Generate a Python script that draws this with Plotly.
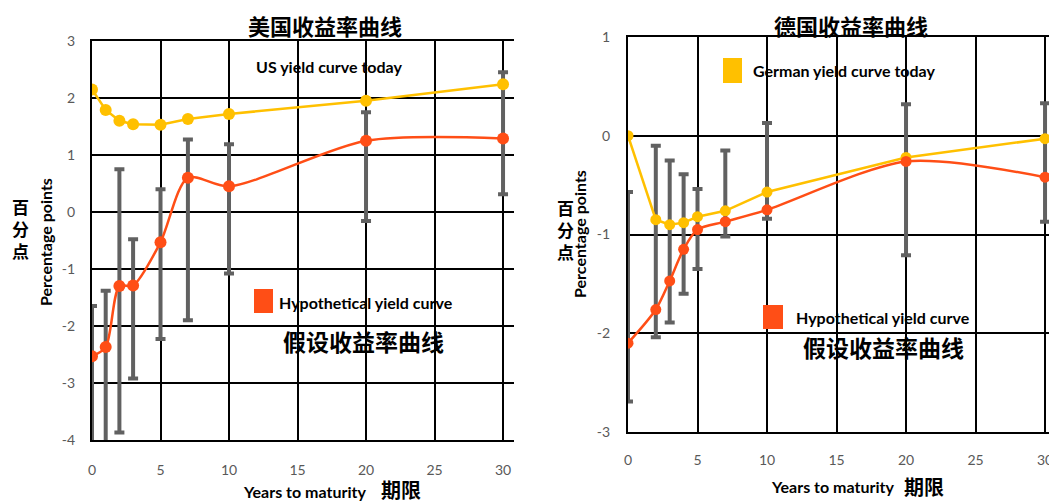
import plotly.graph_objects as go

# ---------------- data ----------------
us_years = [0, 1, 2, 3, 5, 7, 10, 20, 30]
us_today = [2.15, 1.79, 1.60, 1.54, 1.53, 1.63, 1.72, 1.95, 2.24]
us_hypo = [-2.53, -2.37, -1.30, -1.29, -0.53, 0.60, 0.45, 1.25, 1.29]
us_err_hi = [-1.65, -1.38, 0.75, -0.48, 0.40, 1.27, 1.19, 1.75, 2.45]
us_err_lo = [-4.6, -4.3, -3.87, -2.92, -2.23, -1.90, -1.08, -0.16, 0.31]

de_years = [0, 2, 3, 4, 5, 7, 10, 20, 30]
de_today = [0.0, -0.85, -0.90, -0.88, -0.82, -0.76, -0.57, -0.22, -0.03]
de_hypo = [-2.10, -1.76, -1.47, -1.15, -0.95, -0.87, -0.75, -0.26, -0.42]
de_err_hi = [-0.57, -0.10, -0.25, -0.39, -0.54, -0.15, 0.13, 0.32, 0.33]
de_err_lo = [-2.69, -2.04, -1.89, -1.60, -1.35, -1.02, -0.84, -1.21, -0.87]

x_ticks = [0, 5, 10, 15, 20, 25, 30]
us_y_ticks = [3, 2, 1, 0, -1, -2, -3, -4]
de_y_ticks = [1, 0, -1, -2, -3]

YELLOW = "#FFC000"
RED = "#FF4E16"
GRAY = "#616161"
OFF = 8  # page body margin
W, H = 1057 - OFF, 504 - OFF


def px(x):
    return (x - OFF) / W


def py(y):
    return 1 - (y - OFF) / H


fig = go.Figure()


def add_chart(xs, today, hypo, hi, lo, xa, ya, msize):
    fig.add_trace(go.Scatter(
        x=xs, y=hypo, mode="markers", xaxis=xa, yaxis=ya,
        marker=dict(size=1, opacity=0), showlegend=False, hoverinfo="skip",
        error_y=dict(type="data", symmetric=False,
                     array=[h - v for h, v in zip(hi, hypo)],
                     arrayminus=[v - l for l, v in zip(lo, hypo)],
                     color=GRAY, thickness=4, width=5),
    ))
    fig.add_trace(go.Scatter(
        x=xs, y=today, mode="lines+markers", xaxis=xa, yaxis=ya,
        line=dict(color=YELLOW, width=2.5),
        marker=dict(color=YELLOW, size=msize), showlegend=False,
    ))
    fig.add_trace(go.Scatter(
        x=xs, y=hypo, mode="lines+markers", xaxis=xa, yaxis=ya,
        line=dict(color=RED, width=2.5, shape="spline", smoothing=0.8),
        marker=dict(color=RED, size=msize), showlegend=False,
    ))


add_chart(us_years, us_today, us_hypo, us_err_hi, us_err_lo, "x", "y", 12)
add_chart(de_years, de_today, de_hypo, de_err_hi, de_err_lo, "x2", "y2", 11)

tickfont = dict(family="Lato", size=14, color="#595959")
axis_common = dict(showgrid=True, gridcolor="black", gridwidth=2,
                   zeroline=False, showline=True, linecolor="black",
                   linewidth=2, ticks="", tickfont=tickfont, fixedrange=True,
                   automargin=False)

fig.update_layout(
    width=W, height=H,
    margin=dict(l=0, r=0, t=0, b=0, autoexpand=False),
    paper_bgcolor="white", plot_bgcolor="white",
    xaxis=dict(domain=[px(92), px(514)], range=[0, 30.8], anchor="y",
               tickvals=x_ticks, ticktext=[str(v) for v in x_ticks],
               mirror=True, ticklabelstandoff=16, **axis_common),
    yaxis=dict(domain=[py(440), py(41)], range=[-4, 3], anchor="x",
               tickvals=us_y_ticks, ticktext=[str(v) for v in us_y_ticks],
               ticklabelstandoff=12, **axis_common),
    xaxis2=dict(domain=[px(628), 1.0], range=[0, 30.86], anchor="y2",
                tickvals=x_ticks, ticktext=[str(v) for v in x_ticks],
                mirror=True, ticklabelstandoff=14, **axis_common),
    yaxis2=dict(domain=[py(432), py(37)], range=[-3, 1], anchor="x2",
                tickvals=de_y_ticks, ticktext=[str(v) for v in de_y_ticks],
                ticklabelstandoff=13, **axis_common),
)

CJK = "Noto Sans CJK SC"
EN = "Lato"
annots = []


def ann(text, x, y, size, family, color="black", xanchor="center", angle=0):
    annots.append(dict(text=text, x=px(x), y=py(y), xref="paper", yref="paper",
                       showarrow=False, xanchor=xanchor, yanchor="middle",
                       textangle=angle, borderpad=0,
                       font=dict(family=family, size=size, color=color)))


# Left chart texts
ann("<b>美国收益率曲线</b>", 325, 25, 22, CJK)
ann("<b>US yield curve today</b>", 255, 67, 16, EN, xanchor="left")
ann("<b>Hypothetical yield curve</b>", 278, 302, 16, EN, xanchor="left")
ann("<b>假设收益率曲线</b>", 282, 341, 23, CJK, xanchor="left")
ann("<b>Years to maturity</b>", 242, 491, 16, EN, xanchor="left")
ann("<b>期限</b>", 380, 489, 20, CJK, xanchor="left")
ann("<b>Percentage points</b>", 45, 242, 16, EN, angle=-90)
ann("<b>百<br>分<br>点</b>", 20, 228, 17, CJK)

# Right chart texts
ann("<b>德国收益率曲线</b>", 851, 25, 22, CJK)
ann("<b>German yield curve today</b>", 752, 70, 16, EN, xanchor="left")
ann("<b>Hypothetical yield curve</b>", 795, 317, 16, EN, xanchor="left")
ann("<b>假设收益率曲线</b>", 802, 347, 23, CJK, xanchor="left")
ann("<b>Years to maturity</b>", 770, 486, 16, EN, xanchor="left")
ann("<b>期限</b>", 903, 486, 20, CJK, xanchor="left")
ann("<b>Percentage points</b>", 580, 234, 16, EN, angle=-90)
ann("<b>百<br>分<br>点</b>", 565, 229, 17, CJK)

fig.update_layout(annotations=annots)

# legend swatches
shapes = [
    dict(type="rect", xref="paper", yref="paper", x0=px(254), x1=px(273),
         y0=py(313), y1=py(289), fillcolor=RED, line=dict(width=0)),
    dict(type="rect", xref="paper", yref="paper", x0=px(723), x1=px(742),
         y0=py(83), y1=py(58), fillcolor=YELLOW, line=dict(width=0)),
    dict(type="rect", xref="paper", yref="paper", x0=px(763), x1=px(783),
         y0=py(329), y1=py(305), fillcolor=RED, line=dict(width=0)),
]
fig.update_layout(shapes=shapes)

fig.write_html("out.html")
